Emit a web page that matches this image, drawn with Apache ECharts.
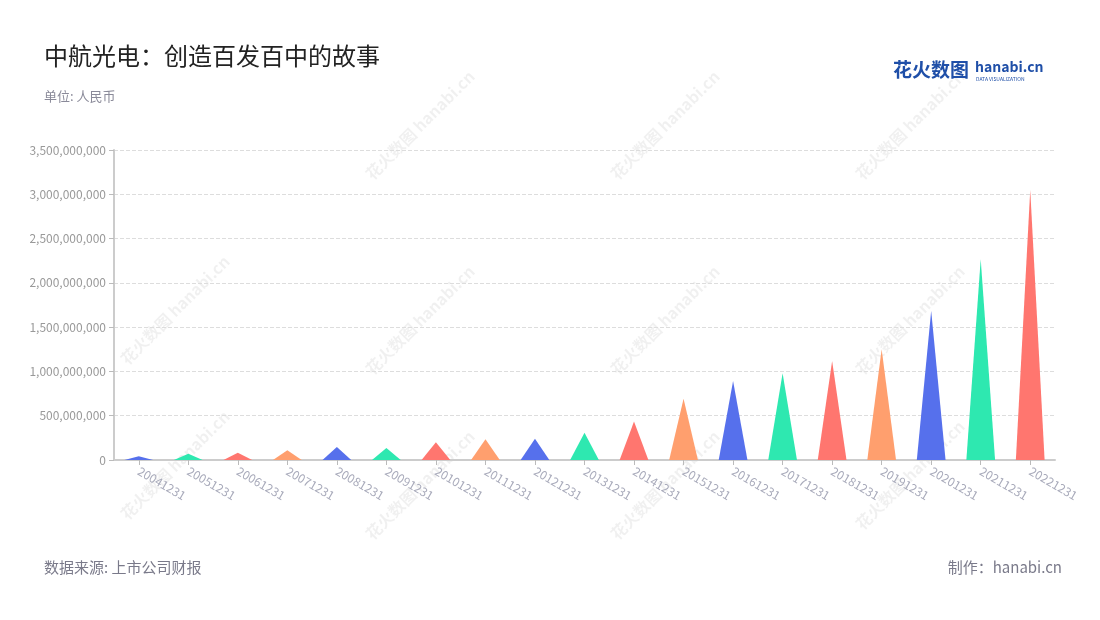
<!DOCTYPE html>
<html>
<head>
<meta charset="utf-8">
<script src="https://cdn.jsdelivr.net/npm/echarts@6/dist/echarts.min.js"></script>
<style>html,body{margin:0;padding:0;background:#fff}#main{width:1100px;height:620px}</style>
</head>
<body>
<div id="main"></div>
<script>
const categories = ['20041231','20051231','20061231','20071231','20081231','20091231','20101231','20111231','20121231','20131231','20141231','20151231','20161231','20171231','20181231','20191231','20201231','20211231','20221231'];
const values = [42000000, 71000000, 82000000, 109000000, 147000000, 135000000, 200000000, 234000000, 241000000, 308000000, 435000000, 692000000, 892000000, 979000000, 1118000000, 1250000000, 1686000000, 2266000000, 3048000000];
const palette = ['#5670EC', '#2EE8B0', '#FF766F', '#FF9F6E'];
const yTicks = { min: 0, max: 3500000000, interval: 500000000 };

const chart = echarts.init(document.getElementById('main'));
const font = '"Noto Sans CJK SC", "Noto Sans", sans-serif';

const watermarks = [];
const wmPos = [[420,125],[665,125],[910,125],[175,310],[420,320],[665,320],[910,320],[175,465],[420,485],[665,485],[910,475]];
wmPos.forEach(p => {
  watermarks.push({
    type: 'text', x: p[0], y: p[1], rotation: Math.PI / 4, silent: true, z: 0,
    style: { text: '花火数图 hanabi.cn', fill: 'rgba(0,0,0,0.06)', font: 'bold 16px ' + font, align: 'center', verticalAlign: 'middle' }
  });
});

chart.setOption({
  backgroundColor: '#fff',
  title: [
    { text: '中航光电：创造百发百中的故事', left: 39, top: 39, textStyle: { fontFamily: font, fontSize: 24, fontWeight: 'normal', color: '#222' } },
    { text: '单位: 人民币', left: 39, top: 85, textStyle: { fontFamily: font, fontSize: 13, fontWeight: 'normal', color: '#8a8a99' } },
    { text: '数据来源: 上市公司财报', left: 39, top: 555, textStyle: { fontFamily: font, fontSize: 15, fontWeight: 'normal', color: '#7a7a8a' } },
    { text: '制作：hanabi.cn', right: 33, top: 555, textStyle: { fontFamily: font, fontSize: 15, fontWeight: 'normal', color: '#7a7a8a' } }
  ],
  graphic: watermarks.concat([
    { type: 'text', left: 893, top: 60, style: { text: '花火数图', fill: '#1F4FA8', font: 'bold 19px ' + font } },
    { type: 'text', left: 975, top: 60, style: { text: 'hanabi.cn', fill: '#1F4FA8', font: 'bold 14px ' + font } },
    { type: 'text', left: 976, top: 77, style: { text: 'DATA VISUALIZATION', fill: '#1F4FA8', font: '5px ' + font } }
  ]),
  grid: { left: 114, right: 45, top: 150, bottom: 160 },
  xAxis: {
    type: 'category',
    data: categories,
    axisLine: { lineStyle: { color: '#ccc', width: 2 } },
    axisTick: { show: true, alignWithLabel: true, lineStyle: { color: '#bbb' } },
    axisLabel: { rotate: -30, color: '#a9abbb', fontSize: 12, fontFamily: font, margin: 10 }
  },
  yAxis: {
    type: 'value',
    min: yTicks.min, max: yTicks.max, interval: yTicks.interval,
    axisLine: { show: true, lineStyle: { color: '#ccc', width: 2 } },
    axisTick: { show: true, lineStyle: { color: '#bbb' } },
    axisLabel: { color: '#999', fontSize: 12, fontFamily: font, formatter: v => v.toLocaleString('en-US') },
    splitLine: { lineStyle: { type: 'dashed', color: '#ddd' } }
  },
  series: [{
    type: 'pictorialBar',
    symbol: 'triangle',
    barCategoryGap: '42%',
    z: 5,
    data: values.map((v, i) => ({ value: v, itemStyle: { color: palette[i % 4] } }))
  }]
});
</script>
</body>
</html>
